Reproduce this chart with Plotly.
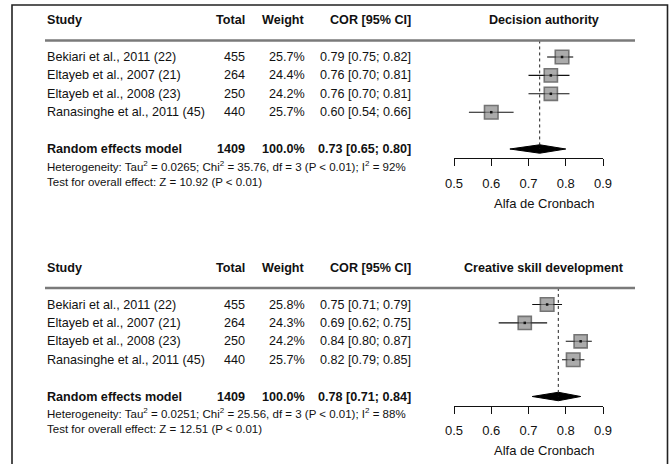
import plotly.graph_objects as go
import math

# ---------------- data ----------------
studies = ["Bekiari et al., 2011 (22)", "Eltayeb et al., 2007 (21)",
           "Eltayeb et al., 2008 (23)", "Ranasinghe et al., 2011 (45)"]
totals = [455, 264, 250, 440]
total_sum = 1409

panel_titles = ["Decision authority", "Creative skill development"]

da_weight = [25.7, 24.4, 24.2, 25.7]
da_est = [0.79, 0.76, 0.76, 0.60]
da_lo = [0.75, 0.70, 0.70, 0.54]
da_hi = [0.82, 0.81, 0.81, 0.66]
da_pooled = [0.73, 0.65, 0.80]          # estimate, lower, upper
da_stats = ["0.0265", "35.76", "3", "0.01", "92", "10.92", "0.01"]

cs_weight = [25.8, 24.3, 24.2, 25.7]
cs_est = [0.75, 0.69, 0.84, 0.82]
cs_lo = [0.71, 0.62, 0.80, 0.79]
cs_hi = [0.79, 0.75, 0.87, 0.85]
cs_pooled = [0.78, 0.71, 0.84]
cs_stats = ["0.0251", "25.56", "3", "0.01", "88", "12.51", "0.01"]

tick_vals = [0.5, 0.6, 0.7, 0.8, 0.9]
tick_text = ["0.5", "0.6", "0.7", "0.8", "0.9"]
x_label = "Alfa de Cronbach"
headers = ["Study", "Total", "Weight", "COR [95% CI]"]

# ---------------- layout helpers ----------------
W, H = 672, 464
FONT = "Liberation Sans, Arial, sans-serif"
TXT = "#111111"
FS = 12.6

def px(x):
    return x / W

def py(y):
    return 1 - y / H

ROW1 = 57.0        # pixel y of first study row (top panel)
STEP = 18.4        # pixel per row
OFF = 247.5        # vertical offset between panels
DOM_TOP, DOM_BOT = 10.0, 200.0
AXIS_Y = 158.0

def row_of(pixel):
    return 1 + (pixel - ROW1) / STEP

fig = go.Figure()
annotations = []
shapes = []

panels = [
    (da_weight, da_est, da_lo, da_hi, da_pooled, da_stats),
    (cs_weight, cs_est, cs_lo, cs_hi, cs_pooled, cs_stats),
]

X_COL = {"study": 45, "total": 247, "weight": 307, "cor": 413, "title": 544}

for p, (wt, est, lo, hi, pooled, st) in enumerate(panels):
    xa = "x" if p == 0 else "x2"
    ya = "y" if p == 0 else "y2"
    off = p * OFF
    rows = [i + 1 for i in range(len(studies))]
    r_sum = len(studies) + 2
    r_head = -1
    r_line = 0.1
    r_het = 6.9
    r_test = 7.77

    wmax = max(wt)
    sizes = [13.5 * math.sqrt(w / wmax) for w in wt]
    fig.add_trace(go.Scatter(
        x=est, y=rows, xaxis=xa, yaxis=ya, mode="markers",
        marker=dict(symbol="square", size=sizes, color="#888888",
                    line=dict(color="#3a3a3a", width=1.6)),
        error_x=dict(type="data", symmetric=False,
                     array=[h - e for h, e in zip(hi, est)],
                     arrayminus=[e - l for e, l in zip(est, lo)],
                     width=0, thickness=1.1, color="#111111"),
        cliponaxis=False, showlegend=False, hoverinfo="skip"))
    fig.add_trace(go.Scatter(
        x=est, y=rows, xaxis=xa, yaxis=ya, mode="markers",
        marker=dict(symbol="square", size=2.5, color="#111111"),
        cliponaxis=False, showlegend=False, hoverinfo="skip"))

    h = 0.23
    fig.add_trace(go.Scatter(
        x=[pooled[1], pooled[0], pooled[2], pooled[0], pooled[1]],
        y=[r_sum, r_sum - h, r_sum, r_sum + h, r_sum],
        xaxis=xa, yaxis=ya, mode="lines", fill="toself",
        fillcolor="#000000", line=dict(color="#000000", width=1),
        cliponaxis=False, showlegend=False, hoverinfo="skip"))

    shapes.append(dict(type="line", xref=xa, yref=ya, x0=pooled[0], x1=pooled[0],
                       y0=r_line, y1=r_sum, line=dict(color="#222222", width=1, dash="dot")))
    shapes.append(dict(type="line", xref="paper", yref=ya, x0=px(45), x1=px(635),
                       y0=r_line, y1=r_line, line=dict(color="#7a7a7a", width=2.5)))

    def ann(text, x, y, anchor, size=FS, bold=False):
        if bold:
            text = "<b>" + text + "</b>"
        annotations.append(dict(text=text, x=px(x), y=y, xref="paper", yref=ya,
                                xanchor=anchor, yanchor="middle", showarrow=False,
                                font=dict(family=FONT, size=size, color=TXT)))

    ann(headers[0], X_COL["study"], r_head, "left", bold=True)
    ann(headers[1], X_COL["total"], r_head, "right", bold=True)
    ann(headers[2], X_COL["weight"], r_head, "right", bold=True)
    ann(headers[3], X_COL["cor"], r_head, "right", bold=True)
    ann(panel_titles[p], X_COL["title"], r_head, "center", bold=True)

    for i, r in enumerate(rows):
        ann(studies[i], X_COL["study"], r, "left")
        ann(str(totals[i]), X_COL["total"], r, "right")
        ann(f"{wt[i]:.1f}%", X_COL["weight"], r, "right")
        ann(f"{est[i]:.2f} [{lo[i]:.2f}; {hi[i]:.2f}]", X_COL["cor"], r, "right")

    ann("Random effects model", X_COL["study"], r_sum, "left", bold=True)
    ann(str(total_sum), X_COL["total"], r_sum, "right", bold=True)
    ann(f"{sum(wt):.1f}%", X_COL["weight"], r_sum, "right", bold=True)
    ann(f"{pooled[0]:.2f} [{pooled[1]:.2f}; {pooled[2]:.2f}]", X_COL["cor"], r_sum, "right", bold=True)

    het = (f"Heterogeneity: Tau<sup>2</sup> = {st[0]}; Chi<sup>2</sup> = {st[1]}, "
           f"df = {st[2]} (P &lt; {st[3]}); I<sup>2</sup> = {st[4]}%")
    ann(het, X_COL["study"], r_het, "left", size=11.5)
    ann(f"Test for overall effect: Z = {st[5]} (P &lt; {st[6]})", X_COL["study"], r_test, "left", size=11.5)

    annotations.append(dict(text=x_label, x=px(X_COL["title"]), y=py(203 + off),
                            xref="paper", yref="paper", xanchor="center", yanchor="middle",
                            showarrow=False, font=dict(family=FONT, size=13, color=TXT)))

    r_top = row_of(DOM_TOP)
    r_bot = row_of(DOM_BOT)
    xkey = "xaxis" if p == 0 else "xaxis2"
    ykey = "yaxis" if p == 0 else "yaxis2"
    fig.update_layout(**{
        xkey: dict(domain=[px(454), px(603)], range=[0.5, 0.9], anchor="free",
                   position=py(AXIS_Y + off), automargin=False,
                   showline=True, linecolor="#111111", linewidth=1,
                   ticks="outside", ticklen=7, tickwidth=1, tickcolor="#111111",
                   tickvals=tick_vals, ticktext=tick_text, ticklabelstandoff=6,
                   tickfont=dict(family=FONT, size=13, color=TXT),
                   showgrid=False, zeroline=False, fixedrange=True),
        ykey: dict(domain=[py(DOM_BOT + off), py(DOM_TOP + off)], range=[r_bot, r_top],
                   anchor=xa, visible=False, automargin=False,
                   showgrid=False, zeroline=False, fixedrange=True),
    })

# outer frame
shapes.append(dict(type="rect", xref="paper", yref="paper", x0=px(12), x1=px(667.5),
                   y0=py(5), y1=-0.05, line=dict(color="#222222", width=1.6)))

fig.update_layout(width=W, height=H,
                  margin=dict(l=0, r=0, t=0, b=0, pad=0, autoexpand=False),
                  paper_bgcolor="white", plot_bgcolor="white",
                  annotations=annotations, shapes=shapes, showlegend=False)

fig.write_html("out.html", config={"displayModeBar": False, "responsive": False},
               post_script="document.body.style.margin='0';document.body.style.padding='0';")
